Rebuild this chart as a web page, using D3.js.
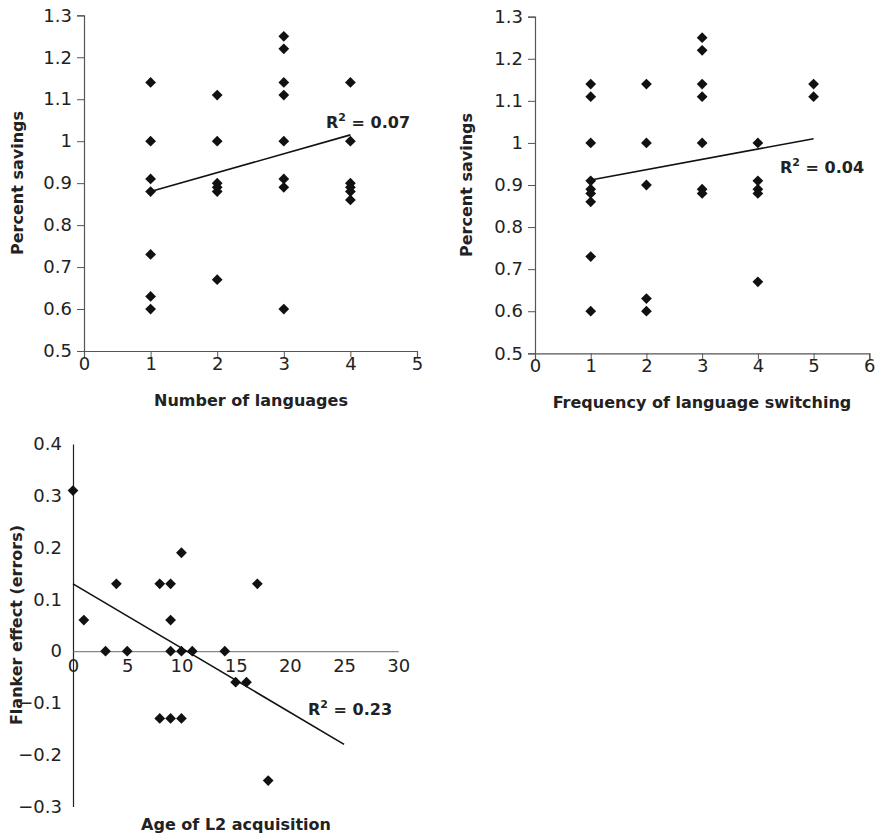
<!DOCTYPE html>
<html>
<head>
<meta charset="utf-8">
<script src="https://cdn.jsdelivr.net/npm/d3@7"></script>
<style>
  body { margin: 0; background: #fff; }
  svg { display: block; }
  .axis-label { font-family: "DejaVu Sans", sans-serif; font-size: 16px; font-weight: bold; fill: #222; }
  .r2 { font-family: "DejaVu Sans", sans-serif; font-size: 16px; font-weight: bold; fill: #222; }
</style>
</head>
<body>
<svg width="877" height="836"></svg>
<script>
  // panel 1: number of languages vs percent savings
  const langCount = [1, 1, 1, 1, 1, 1, 1,
                     2, 2, 2, 2, 2, 2,
                     3, 3, 3, 3, 3, 3, 3, 3,
                     4, 4, 4, 4, 4, 4];
  const langSavings = [1.14, 1.00, 0.91, 0.88, 0.73, 0.63, 0.60,
                       1.11, 1.00, 0.90, 0.89, 0.88, 0.67,
                       1.25, 1.22, 1.14, 1.11, 1.00, 0.91, 0.89, 0.60,
                       1.14, 1.00, 0.90, 0.89, 0.88, 0.86];
  const langTrendX = [1, 4];
  const langTrendY = [0.88, 1.015];

  // panel 2: frequency of switching vs percent savings
  const switchFreq = [1, 1, 1, 1, 1, 1, 1, 1, 1,
                      2, 2, 2, 2, 2,
                      3, 3, 3, 3, 3, 3, 3,
                      4, 4, 4, 4, 4,
                      5, 5];
  const switchSavings = [1.14, 1.11, 1.00, 0.91, 0.89, 0.88, 0.86, 0.73, 0.60,
                         1.14, 1.00, 0.90, 0.63, 0.60,
                         1.25, 1.22, 1.14, 1.11, 1.00, 0.89, 0.88,
                         1.00, 0.91, 0.89, 0.88, 0.67,
                         1.14, 1.11];
  const switchTrendX = [1, 5];
  const switchTrendY = [0.912, 1.01];

  // panel 3: age of L2 acquisition vs flanker effect
  const ageL2 = [0, 1, 3, 4, 5, 8, 9, 9, 9, 10, 10, 11, 14, 15, 16, 17, 8, 9, 10, 18];
  const flanker = [0.31, 0.06, 0, 0.13, 0, 0.13, 0.13, 0.06, 0, 0.19, 0, 0, 0,
                   -0.06, -0.06, 0.13, -0.13, -0.13, -0.13, -0.25];
  const ageTrendX = [0, 25];
  const ageTrendY = [0.13, -0.18];

  const savingsTicks = [0.5, 0.6, 0.7, 0.8, 0.9, 1, 1.1, 1.2, 1.3];
  const langTicks = [0, 1, 2, 3, 4, 5];
  const switchTicks = [0, 1, 2, 3, 4, 5, 6];
  const ageTicks = [0, 5, 10, 15, 20, 25, 30];
  const flankerTicks = [-0.3, -0.2, -0.1, 0, 0.1, 0.2, 0.3, 0.4];

  const fmt = d => d3.format('.1~f')(d).replace('-', '\u2212');

  const diamond = d3.symbol().type(d3.symbolSquare).size(58);

  const scatterPanel = (selection, props) => {
    const {
      xs, ys, trendX, trendY,
      xDomain, yDomain, xRange, yRange,
      xTicks, yTicks, r2, r2Pos,
      xLabel, xLabelPos, yLabel, yLabelPos,
      crossAxis
    } = props;

    const xScale = d3.scaleLinear().domain(xDomain).range(xRange);
    const yScale = d3.scaleLinear().domain(yDomain).range(yRange);

    const g = selection.append('g');

    const yAxis = d3.axisLeft(yScale)
      .tickValues(yTicks)
      .tickFormat(fmt)
      .tickSize(crossAxis ? 0 : 7)
      .tickPadding(crossAxis ? 11 : 5);

    const xAxis = d3.axisBottom(xScale)
      .tickValues(xTicks)
      .tickFormat(fmt)
      .tickSize(crossAxis ? 0 : 6)
      .tickPadding(crossAxis ? 8 : 0);

    const yAxisG = g.append('g')
      .attr('transform', `translate(${xRange[0]},0)`)
      .call(yAxis)
      .attr('font-family', '"DejaVu Sans", sans-serif')
      .attr('font-size', 18);
    yAxisG.select('.domain').attr('stroke', crossAxis ? '#222' : '#555').attr('stroke-width', 1.2);
    yAxisG.selectAll('.tick line').attr('stroke', '#555');
    yAxisG.selectAll('.tick text').attr('fill', '#222');

    const xAxisY = crossAxis ? yScale(0) : yRange[0];
    const xAxisG = g.append('g')
      .attr('transform', `translate(0,${xAxisY})`)
      .call(xAxis)
      .attr('font-family', '"DejaVu Sans", sans-serif')
      .attr('font-size', 18);
    xAxisG.select('.domain').attr('stroke', crossAxis ? '#888' : '#555').attr('stroke-width', 1.2);
    xAxisG.selectAll('.tick line').attr('stroke', '#555');
    xAxisG.selectAll('.tick text').attr('fill', '#222');

    g.append('line')
      .attr('x1', xScale(trendX[0]))
      .attr('y1', yScale(trendY[0]))
      .attr('x2', xScale(trendX[1]))
      .attr('y2', yScale(trendY[1]))
      .attr('stroke', '#111')
      .attr('stroke-width', 1.6);

    g.selectAll('.pt').data(xs.map((x, i) => [x, ys[i]]))
      .enter().append('path')
        .attr('class', 'pt')
        .attr('d', diamond)
        .attr('transform', d => `translate(${xScale(d[0])},${yScale(d[1])}) rotate(45)`)
        .attr('fill', '#111');

    const r2Text = g.append('text')
      .attr('class', 'r2')
      .attr('x', r2Pos[0])
      .attr('y', r2Pos[1]);
    r2Text.append('tspan').text('R');
    r2Text.append('tspan').attr('dy', -7).attr('font-size', 11).text('2');
    r2Text.append('tspan').attr('dy', 7).text(` = ${r2}`);

    g.append('text')
      .attr('class', 'axis-label')
      .attr('text-anchor', 'middle')
      .attr('x', xLabelPos[0])
      .attr('y', xLabelPos[1])
      .text(xLabel);

    g.append('text')
      .attr('class', 'axis-label')
      .attr('text-anchor', 'middle')
      .attr('transform', `translate(${yLabelPos[0]},${yLabelPos[1]}) rotate(-90)`)
      .text(yLabel);
  };

  const svg = d3.select('svg');

  svg.call(scatterPanel, {
    xs: langCount, ys: langSavings, trendX: langTrendX, trendY: langTrendY,
    xDomain: [0, 5], yDomain: [0.5, 1.3],
    xRange: [84, 417], yRange: [351, 15.3],
    xTicks: langTicks, yTicks: savingsTicks,
    r2: '0.07', r2Pos: [326, 128],
    xLabel: 'Number of languages', xLabelPos: [251, 406],
    yLabel: 'Percent savings', yLabelPos: [23, 183],
    crossAxis: false
  });

  svg.call(scatterPanel, {
    xs: switchFreq, ys: switchSavings, trendX: switchTrendX, trendY: switchTrendY,
    xDomain: [0, 6], yDomain: [0.5, 1.3],
    xRange: [535, 869.3], yRange: [353.3, 16.7],
    xTicks: switchTicks, yTicks: savingsTicks,
    r2: '0.04', r2Pos: [780, 173],
    xLabel: 'Frequency of language switching', xLabelPos: [702, 408],
    yLabel: 'Percent savings', yLabelPos: [472, 185],
    crossAxis: false
  });

  svg.call(scatterPanel, {
    xs: ageL2, ys: flanker, trendX: ageTrendX, trendY: ageTrendY,
    xDomain: [0, 30], yDomain: [-0.3, 0.4],
    xRange: [73, 398.3], yRange: [806.5, 444],
    xTicks: ageTicks, yTicks: flankerTicks,
    r2: '0.23', r2Pos: [308, 715],
    xLabel: 'Age of L2 acquisition', xLabelPos: [236, 830],
    yLabel: 'Flanker effect (errors)', yLabelPos: [22, 625],
    crossAxis: true
  });
</script>
</body>
</html>
